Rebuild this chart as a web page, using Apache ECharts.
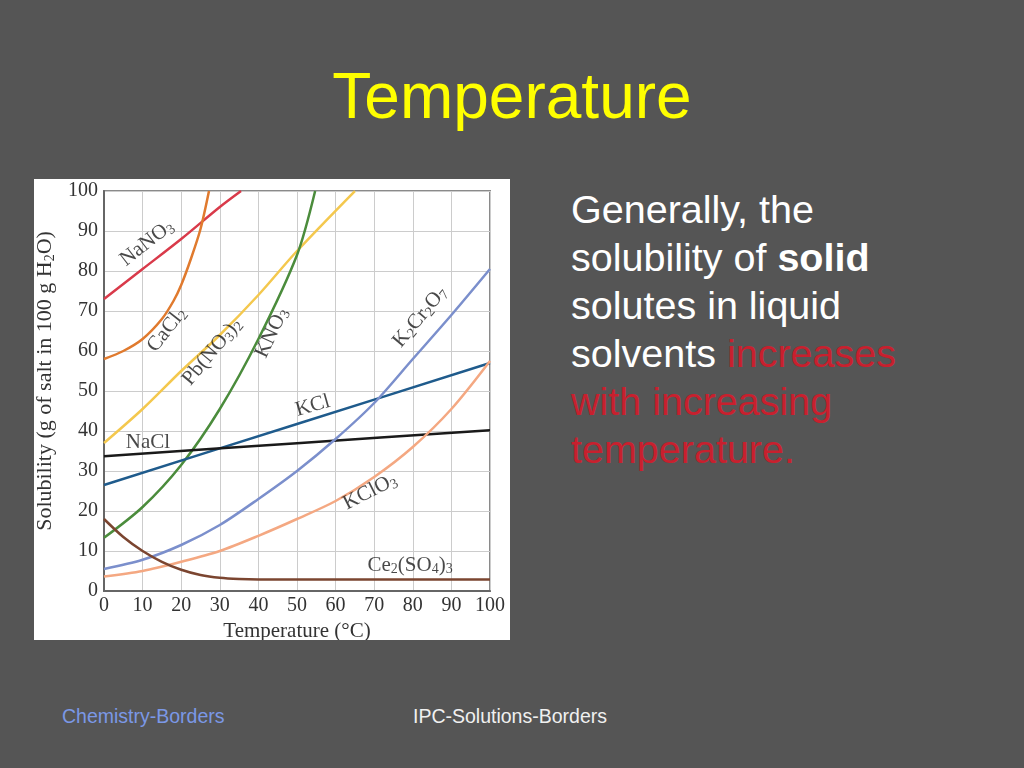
<!DOCTYPE html>
<html>
<head>
<meta charset="utf-8">
<script src="https://cdn.jsdelivr.net/npm/echarts@6/dist/echarts.min.js"></script>
<style>
  html, body { margin:0; padding:0; }
  body { width:1024px; height:768px; overflow:hidden; position:relative;
         background:#555555; font-family:"Liberation Sans", Arial, sans-serif; }
  #title { position:absolute; left:0; width:1024px; top:64px; text-align:center;
           font-size:64px; line-height:64px; color:#ffff00; }
  #body { position:absolute; left:571px; top:185px; font-size:39.5px; line-height:48px; color:#ffffff; }
  #body .red { color:#c8202e; }
  #f1 { position:absolute; left:62px; top:707px; font-size:19.5px; line-height:19px; color:#7b98e6; }
  #f2 { position:absolute; left:413px; top:707px; font-size:19.5px; line-height:19px; color:#f0f0f0; }
  #chart { position:absolute; left:34px; top:179px; width:476px; height:461px; background:#ffffff; }
</style>
</head>
<body>
<div id="title">Temperature</div>
<div id="body">Generally, the<br>solubility of <b>solid</b><br>solutes in liquid<br>solvents <span class="red">increases<br>with increasing<br>temperature.</span></div>
<div id="f1">Chemistry-Borders</div>
<div id="f2">IPC-Solutions-Borders</div>
<div id="chart"></div>
<script>
// ---- data (temperature °C, solubility g / 100 g H2O) ----
const xTicks = [0,10,20,30,40,50,60,70,80,90,100];
const yTicks = [0,10,20,30,40,50,60,70,80,90,100];
const naNO3   = [[0,73],[10,80.5],[20,88],[30,96],[35.5,100]];
const caCl2   = [[0,58],[5,60],[10,63],[15,68],[18,72.5],[20,76.5],[22.5,83],[25,90.5],[27.2,100]];
const pbNO32  = [[0,37],[10,45.5],[20,55],[30,64],[40,74],[50,85],[65,100]];
const kNO3    = [[0,13.3],[10,21],[20,31.5],[30,45.5],[40,63],[50,84],[54.7,100]];
const kCl     = [[0,26.5],[50,41.75],[100,57]];
const naCl    = [[0,33.7],[50,36.95],[100,40.2]];
const k2Cr2O7 = [[0,5.5],[10,7.8],[20,11.5],[30,16.5],[40,23],[50,30],[60,38],[70,47],[80,58],[90,69],[100,80.5]];
const kClO3   = [[0,3.6],[10,5],[20,7.3],[30,10],[40,13.8],[50,18],[60,22.5],[70,28.5],[80,36],[90,45.5],[100,57.5]];
const ce2SO43 = [[0,18],[5,13.5],[10,10],[15,7.3],[20,5.3],[25,4],[30,3.3],[35,3],[40,2.9],[70,2.9],[100,2.9]];

const serif = '"Liberation Serif", "Times New Roman", serif';
const subRich = { s: { fontSize: 14, fontFamily: serif, color: '#1a1a1a', padding: [9,0,0,0] } };

// label anchor points in data coordinates (annotation placement)
const curveLabels = [
  { text: 'NaNO{s|3}', at: [11.1, 87], rot: 38 },
  { text: 'CaCl{s|2}', at: [16.3, 65.3], rot: 52 },
  { text: 'Pb(NO{s|3}){s|2}', at: [28, 59.8], rot: 50 },
  { text: 'KNO{s|3}', at: [43.5, 64.5], rot: 65 },
  { text: 'K{s|2}Cr{s|2}O{s|7}', at: [81.9, 68.5], rot: 50 },
  { text: 'KCl', at: [54.1, 46.3], rot: 16 },
  { text: 'NaCl', at: [11.4, 37.2], rot: 0 },
  { text: 'KClO{s|3}', at: [68.9, 24.8], rot: 27 },
  { text: 'Ce{s|2}(SO{s|4}){s|3}', at: [79.3, 6.5], rot: 0 }
];

function line(data, color) {
  return { type: 'line', data: data, smooth: 0.3, showSymbol: false,
           symbol: 'none', lineStyle: { color: color, width: 2.5 }, silent: true, z: 3 };
}

const chart = echarts.init(document.getElementById('chart'));
chart.setOption({
  animation: false,
  backgroundColor: '#ffffff',
  grid: { left: 70, top: 12, right: 20, bottom: 49, show: true, borderColor: '#8a8a8a', borderWidth: 2,
          containLabel: false, outerBoundsMode: 'none' },
  xAxis: {
    type: 'value', min: 0, max: 100, interval: 10,
    name: 'Temperature (°C)', nameLocation: 'middle', nameGap: 29,
    nameTextStyle: { fontFamily: serif, fontSize: 21, color: '#333' },
    axisLine: { lineStyle: { color: '#666', width: 2 } },
    axisTick: { show: false },
    axisLabel: { fontFamily: serif, fontSize: 20, color: '#333', margin: 5,
                 formatter: v => xTicks.indexOf(v) >= 0 ? String(v) : '' },
    splitLine: { lineStyle: { color: '#cccccc', width: 1 } }
  },
  yAxis: {
    type: 'value', min: 0, max: 100, interval: 10,
    name: 'Solubility (g of salt in 100 g H{s|2}O)', nameLocation: 'middle', nameGap: 46,
    nameTextStyle: { fontFamily: serif, fontSize: 22, color: '#333', padding: [0, 0, 0, 20],
                     rich: { s: { fontSize: 14, fontFamily: serif, color: '#333', padding: [9,0,0,0] } } },
    axisLine: { show: true, lineStyle: { color: '#666', width: 2 } },
    axisTick: { show: false },
    axisLabel: { fontFamily: serif, fontSize: 20, color: '#333', margin: 6,
                 formatter: v => yTicks.indexOf(v) >= 0 ? String(v) : '' },
    splitLine: { lineStyle: { color: '#cccccc', width: 1 } }
  },
  series: [
    line(naNO3, '#d93a4a'),
    line(caCl2, '#e07a2e'),
    line(pbNO32, '#f4c84e'),
    line(kNO3, '#4b8c3c'),
    line(kCl, '#1f5b8c'),
    line(naCl, '#1a1a1a'),
    line(k2Cr2O7, '#7b8fcc'),
    line(kClO3, '#f4a882'),
    line(ce2SO43, '#7b4530'),
    {
      type: 'scatter', symbolSize: 0, silent: true, z: 5,
      data: curveLabels.map(l => ({
        value: l.at,
        label: { show: true, position: 'inside', formatter: l.text, rotate: l.rot,
                 fontFamily: serif, fontSize: 21, color: '#1a1a1a', rich: subRich }
      }))
    }
  ]
});
</script>
</body>
</html>
